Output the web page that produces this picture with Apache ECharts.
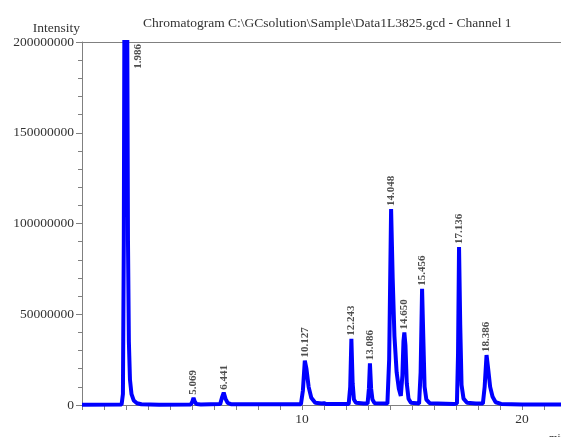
<!DOCTYPE html>
<html><head><meta charset="utf-8">
<script src="https://cdn.jsdelivr.net/npm/echarts@6/dist/echarts.min.js"></script>
<style>html,body{margin:0;padding:0;background:#fff}#c{width:561px;height:437px}</style>
</head><body><div id="c"></div>
<script>
const titleText = 'Chromatogram C:\\GCsolution\\Sample\\Data1L3825.gcd - Channel 1';
const yTickLabels = ['0','50000000','100000000','150000000','200000000'];
const xTickLabels = ['10','20'];
// chromatogram trace, time (min) and intensity (millions)
const traceTime = [0,1.80,1.86,1.90,1.93,1.986,2.05,2.09,2.13,2.18,2.25,2.35,2.5,2.7,3.5,
  4.95,5.02,5.069,5.12,5.2,5.4,6.28,6.36,6.441,6.52,6.62,6.8,
  9.95,10.04,10.127,10.2,10.3,10.42,10.6,10.9,11.0,11.1,
  12.12,12.19,12.243,12.3,12.36,12.45,12.8,12.98,13.04,13.086,13.14,13.2,13.3,
  13.88,13.96,14.048,14.12,14.2,14.3,14.4,14.49,14.56,14.61,14.65,14.7,14.76,14.84,14.95,
  15.32,15.39,15.456,15.51,15.57,15.65,15.8,16.9,17.04,17.09,17.136,17.19,17.25,17.34,17.5,17.9,
  18.22,18.3,18.386,18.45,18.55,18.66,18.8,19.05,20,22.5];
const traceIntensity = [0.2,0.3,6,90,230,1500,230,90,35,14,6,2.5,1,0.4,0.2,
  0.3,2,4,2,0.5,0.3,0.5,4,6.8,3.5,1.2,0.4,
  0.4,8,24.5,20,10,4,1.2,0.8,1,0.5,
  0.5,10,36.5,12,3,1.2,0.8,0.8,9,23,9,3,1,
  0.8,25,108,70,38,18,9,5,16,35,40,33,12,3.5,1.2,
  0.8,18,64,38,10,3,1,0.6,0.8,28,87,44,11,3.5,1.2,0.8,
  0.8,10,27.5,21,10,4.5,1.5,0.6,0.3,0.2];
const peakTimes = [1.986,5.069,6.441,10.127,12.243,13.086,14.048,14.650,15.456,17.136,18.386];
const peakHeights = [1500,4,6.8,24.5,36.5,23,108,40,64,87,27.5];
const peakLabels = ['1.986','5.069','6.441','10.127','12.243','13.086','14.048','14.650','15.456','17.136','18.386'];

const M = 1e6;
const yMax = 200*M;
const trace = traceTime.map((t,i)=>[t, traceIntensity[i]*M]);
const serif = 'Liberation Serif';
const labelData = peakTimes.map((t,i)=>{
  const h = peakHeights[i]*M;
  if (h > yMax) {
    return {value:[t+0.55, yMax], label:{position:'bottom', align:'right', distance:2}};
  }
  return {value:[t, h]};
});

const chart = echarts.init(document.getElementById('c'), null, {renderer:'canvas'});
chart.setOption({
  animation:false,
  backgroundColor:'#fff',
  title:{text:titleText, left:138, top:11,
    textStyle:{fontFamily:serif, fontSize:13.5, fontWeight:'normal', color:'#333'}},
  grid:{left:82, top:42, right:0, bottom:32, show:false, containLabel:false, outerBoundsMode:'none'},
  xAxis:[{type:'value', min:0, max:21.77, interval:10,
    axisLine:{show:true, onZero:false, lineStyle:{color:'#808080', width:1}},
    axisTick:{show:true, inside:false, length:5, lineStyle:{color:'#808080'}},
    minorTick:{show:true, splitNumber:10, length:5, lineStyle:{color:'#808080'}},
    splitLine:{show:false},
    axisLabel:{fontFamily:serif, fontSize:13.5, color:'#333', margin:7, showMaxLabel:false,
      formatter:v=>{const s=String(v); return xTickLabels.includes(s)?s:'';}},
    name:'min', nameLocation:'end', nameGap:-12,
    nameTextStyle:{fontFamily:serif, fontSize:11, color:'#333', align:'left', verticalAlign:'top', padding:[28,0,0,0]}
  },{type:'value', position:'top', min:0, max:21.77,
    axisLine:{show:true, onZero:false, lineStyle:{color:'#808080', width:1}},
    axisTick:{show:false}, axisLabel:{show:false}, splitLine:{show:false}}],
  yAxis:{type:'value', min:0, max:yMax, interval:50*M,
    axisLine:{show:true, lineStyle:{color:'#808080', width:1}},
    axisTick:{show:true, inside:false, length:6, lineStyle:{color:'#808080'}},
    minorTick:{show:true, splitNumber:5, length:4, lineStyle:{color:'#808080'}},
    splitLine:{show:false},
    axisLabel:{fontFamily:serif, fontSize:13.5, color:'#333', margin:8,
      formatter:v=>yTickLabels[Math.round(v/(50*M))]},
    name:'Intensity', nameLocation:'end', nameGap:5,
    nameTextStyle:{fontFamily:serif, fontSize:13.5, color:'#333', align:'right', verticalAlign:'bottom', padding:[0,2,0,0]}
  },
  series:[
    {type:'line', data:trace, showSymbol:false, symbol:'none', clip:true,
      lineStyle:{color:'#0000ff', width:4}, z:2},
    {type:'scatter', data:labelData, symbolSize:0, clip:false, z:3,
      label:{show:true, position:'top', distance:3, rotate:90, align:'left', verticalAlign:'middle',
        fontFamily:serif, fontSize:11, fontWeight:'bold', color:'#222',
        formatter:p=>peakLabels[p.dataIndex]}}
  ]
});
</script></body></html>
